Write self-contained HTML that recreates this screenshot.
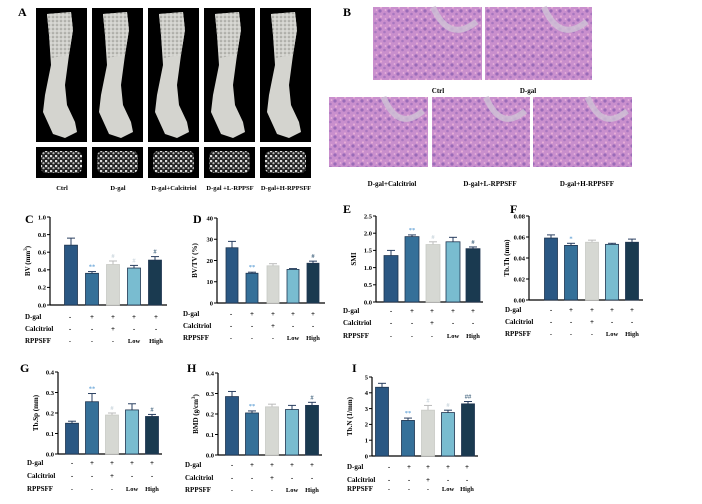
<!DOCTYPE html>
<html><head><meta charset="utf-8"><style>
html,body{margin:0;padding:0;background:#fff;width:702px;height:504px;overflow:hidden}
svg{display:block;font-family:"Liberation Serif",serif;font-weight:bold}
</style></head><body>
<svg id="s" width="702" height="504" viewBox="0 0 702 504" xmlns="http://www.w3.org/2000/svg">
<defs>
<pattern id="he" width="9" height="9" patternUnits="userSpaceOnUse">
<rect width="9" height="9" fill="#c98fcd"/>
<circle cx="2" cy="2" r="1.6" fill="#9a6bb8"/>
<circle cx="6.5" cy="5" r="1.3" fill="#a877c0"/>
<circle cx="3" cy="7.5" r="1.1" fill="#e6acd6"/>
<circle cx="7.5" cy="1" r="0.9" fill="#e9b3dc"/>
</pattern>
<pattern id="tb" width="5" height="5" patternUnits="userSpaceOnUse">
<rect width="5" height="5" fill="#222"/>
<circle cx="1" cy="1" r="1.3" fill="#ddd"/>
<circle cx="3.5" cy="3.2" r="1.1" fill="#bbb"/>
</pattern>
<pattern id="bn" width="4" height="4" patternUnits="userSpaceOnUse">
<rect width="4" height="4" fill="#cfcfca"/>
<circle cx="1" cy="1" r="0.8" fill="#8e8e88"/>
<circle cx="3" cy="3" r="0.6" fill="#f0f0ec"/>
</pattern>
</defs>
<g id="g"></g>
</svg>
<script>
var g=document.getElementById('g'),h='';
function t(x,y,s,fs,anc,fill,extra){h+='<text x="'+x+'" y="'+y+'" font-size="'+fs+'" text-anchor="'+(anc||'start')+'" fill="'+(fill||'#000')+'" '+(extra||'')+'>'+s+'</text>';}
t(18,16,'A',12);t(343,16,'B',12);
var ax=[36,92,148,204,260],al=['Ctrl','D-gal','D-gal+Calcitriol','D-gal +L-RPPSF','D-gal+H-RPPSFF'];
ax.forEach(function(x,i){
 h+='<rect x="'+x+'" y="8" width="51" height="134" fill="#000"/>';
 var c=x+25;
 h+='<path d="M'+(c-14)+' 14 L'+(c+10)+' 12 L'+(c+12)+' 30 L'+(c+8)+' 55 L'+(c+4)+' 85 L'+(c+6)+' 105 L'+(c+14)+' 122 L'+(c+16)+' 132 L'+(c+4)+' 138 L'+(c-8)+' 134 L'+(c-18)+' 112 L'+(c-16)+' 95 L'+(c-10)+' 65 L'+(c-12)+' 35 Z" fill="#d4d4cf"/>';
 h+='<path d="M'+(c-14)+' 14 L'+(c+10)+' 12 L'+(c+12)+' 30 L'+(c+8)+' 55 L'+(c-10)+' 58 L'+(c-12)+' 35 Z" fill="url(#bn)"/>';
 h+='<rect x="'+x+'" y="147" width="51" height="31" fill="#000"/>';
 h+='<rect x="'+(x+5)+'" y="151" width="41" height="22" rx="5" fill="url(#tb)"/>';
 t(c+1,190,al[i],6.5,'middle');
});
[[373,7,109,73],[485,7,107,73],[329,97,99,70],[432,97,98,70],[533,97,99,70]].forEach(function(r){
 h+='<rect x="'+r[0]+'" y="'+r[1]+'" width="'+r[2]+'" height="'+r[3]+'" fill="url(#he)"/>';
 h+='<path d="M'+(r[0]+r[2]*0.55)+' '+r[1]+' Q'+(r[0]+r[2]*0.7)+' '+(r[1]+r[3]*0.5)+' '+(r[0]+r[2]*0.95)+' '+(r[1]+r[3]*0.2)+'" stroke="#cfc3d6" stroke-width="6" fill="none" opacity="0.8"/>';
});
t(438,93,'Ctrl',7,'middle');t(528,93,'D-gal',7,'middle');
t(392,186,'D-gal+Calcitriol',7,'middle');t(490,186,'D-gal+L-RPPSFF',7,'middle');t(587,186,'D-gal+H-RPPSFF',7,'middle');
var cols=['#2a5783','#357099','#d6d8d3','#79bcd0','#1a3a50'];
function chart(o){
 var X=o.ax,T=o.top,B=o.bot,mx=o.max;
 function Y(v){return B-(v/mx)*(B-T);}
 t(o.lx,o.ly,o.L,12);
 for(var i=0;i<o.ticks.length;i++){var v=o.ticks[i],y=Y(v);
  h+='<line x1="'+(X-3)+'" x2="'+X+'" y1="'+y+'" y2="'+y+'" stroke="#000" stroke-width="1"/>';
  t(X-4,y+2.3,o.tl[i],6.5,'end');}
 h+='<line x1="'+X+'" x2="'+X+'" y1="'+T+'" y2="'+B+'" stroke="#000" stroke-width="1.2"/>';
 h+='<line x1="'+X+'" x2="'+o.end+'" y1="'+B+'" y2="'+B+'" stroke="#000" stroke-width="1.2"/>';
 t(0,0,o.yl,7,'middle','#000','transform="translate('+(X-20)+','+((T+B)/2)+') rotate(-90)"');
 var bw=o.bw||13;
 o.c.forEach(function(c,i){
  var v=o.v[i],e=o.e[i],y=Y(v),ye=Y(v+e);
  h+='<line x1="'+c+'" x2="'+c+'" y1="'+ye+'" y2="'+y+'" stroke="'+(i==2?'#bbb':'#2a3f60')+'" stroke-width="1"/>';
  h+='<line x1="'+(c-4)+'" x2="'+(c+4)+'" y1="'+ye+'" y2="'+ye+'" stroke="'+(i==2?'#bbb':'#2a3f60')+'" stroke-width="1"/>';
  h+='<rect x="'+(c-bw/2)+'" y="'+y+'" width="'+bw+'" height="'+(B-y)+'" fill="'+cols[i]+'" stroke="'+(i==2?'#c8cac5':'#1f3550')+'" stroke-width="0.8"/>';
  var a=o.a[i];
  if(a){var fc=i==1?'#6aa6d8':(i==4?'#3d5f7a':'#c8d4dc');t(c,ye-3,a,6.5,'middle',fc);}
  t(o.dc[i],o.r[0]+2,i==0?'-':'+',7,'middle');
  t(o.dc[i],o.r[1]+2,i==2?'+':'-',7,'middle');
  t(o.dc[i],o.r[2]+2,['-','-','-','Low','High'][i],6.5,'middle');
 });
 t(o.rx,o.r[0]+2,'D-gal',7);t(o.rx,o.r[1]+2,'Calcitriol',7);t(o.rx,o.r[2]+2,'RPPSFF',7);
}
chart({L:'C',lx:25,ly:223,ax:50,top:217,bot:305,end:167,max:1,ticks:[0,.2,.4,.6,.8,1],tl:['0.0','0.2','0.4','0.6','0.8','1.0'],yl:'BV (mm<tspan font-size="5" dy="-3">3</tspan><tspan dy="3">)</tspan>',
 c:[71,92,113,134,155],dc:[70,92,113,134,156],v:[.68,.36,.46,.42,.51],e:[.08,.02,.04,.03,.04],a:['','**','#','#','#'],r:[317,329,341],rx:25});
chart({L:'D',lx:193,ly:223,ax:217,top:218,bot:303,end:325,max:40,ticks:[0,10,20,30,40],tl:['0','10','20','30','40'],yl:'BV/TV (%)',bw:12,
 c:[232,252,273,293,313],dc:[231,252,273,293,313],v:[26,14,17.5,15.8,18.7],e:[3,.5,1,.4,1],a:['','**','','','#'],r:[314,326,338],rx:183});
chart({L:'E',lx:343,ly:213,ax:376,top:216,bot:302,end:483,max:2.5,ticks:[0,.5,1,1.5,2,2.5],tl:['0.0','0.5','1.0','1.5','2.0','2.5'],yl:'SMI',bw:14,
 c:[391,412,433,453,473],dc:[391,412,432,453,473],v:[1.35,1.9,1.67,1.75,1.55],e:[.15,.05,.08,.13,.05],a:['','**','#','','#'],r:[311,323,336],rx:343});
chart({L:'F',lx:510,ly:213,ax:529,top:216,bot:300,end:643,max:.08,ticks:[0,.02,.04,.06,.08],tl:['0.00','0.02','0.04','0.06','0.08'],yl:'Tb.Th (mm)',bw:13,
 c:[551,571,592,612,632],dc:[551,571,592,612,632],v:[.059,.052,.055,.053,.055],e:[.003,.002,.002,.001,.003],a:['','*','','',''],r:[310,322,334],rx:505});
chart({L:'G',lx:20,ly:372,ax:58,top:372,bot:454,end:162,max:.4,ticks:[0,.1,.2,.3,.4],tl:['0.0','0.1','0.2','0.3','0.4'],yl:'Tb.Sp (mm)',bw:13,
 c:[72,92,112,132,152],dc:[72,92,112,132,152],v:[.15,.255,.19,.215,.183],e:[.01,.04,.01,.03,.01],a:['','**','#','','#'],r:[463,476,489],rx:27});
chart({L:'H',lx:187,ly:372,ax:218,top:373,bot:455,end:322,max:.4,ticks:[0,.1,.2,.3,.4],tl:['0.0','0.1','0.2','0.3','0.4'],yl:'BMD (g/cm<tspan font-size="5" dy="-3">3</tspan><tspan dy="3">)</tspan>',bw:13,
 c:[232,252,272,292,312],dc:[232,252,272,292,312],v:[.285,.205,.235,.222,.242],e:[.025,.01,.013,.02,.015],a:['','**','','','#'],r:[465,478,490],rx:185});
chart({L:'I',lx:352,ly:372,ax:372,top:377,bot:456,end:478,max:5,ticks:[0,1,2,3,4,5],tl:['0','1','2','3','4','5'],yl:'Tb.N (1/mm)',bw:13,
 c:[382,408,428,448,468],dc:[389,409,428,448,467],v:[4.35,2.25,2.9,2.75,3.3],e:[.25,.15,.3,.15,.15],a:['','**','#','#','##'],r:[467,480,489],rx:347});
g.innerHTML=h;
</script>
</body></html>
